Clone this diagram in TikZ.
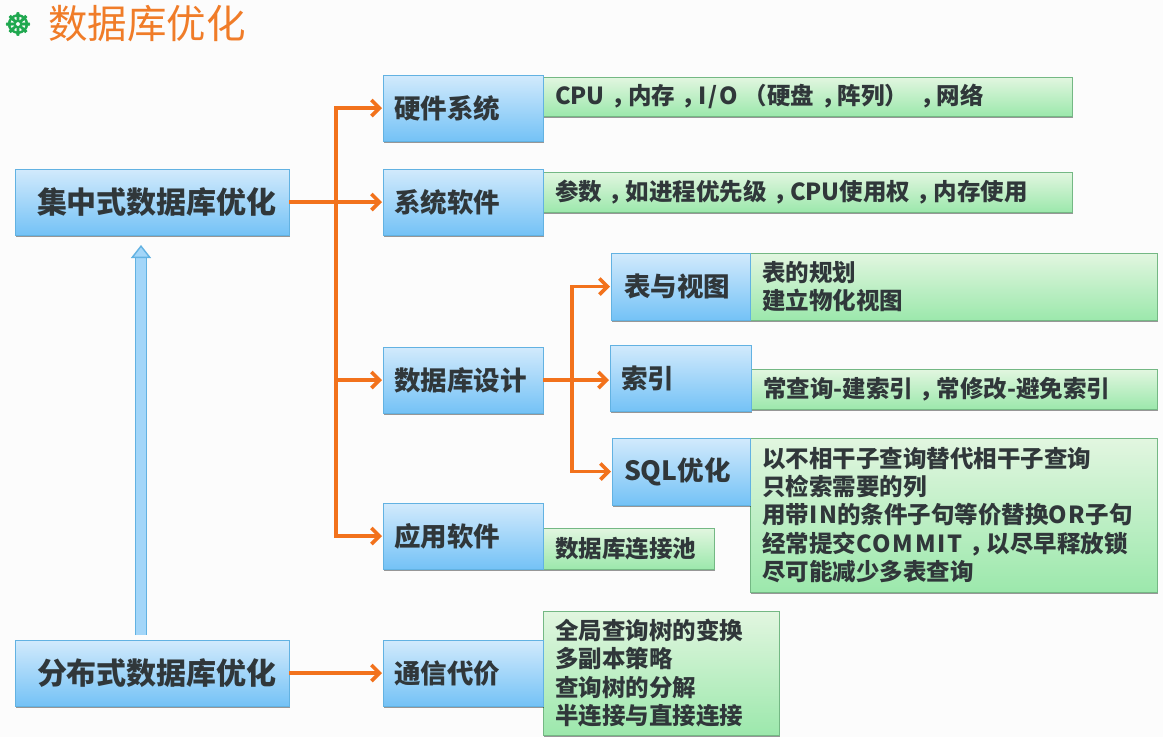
\documentclass[tikz,border=0pt]{standalone}
\usepackage{fontspec}
\setmainfont{Noto Sans CJK SC}
\newfontfamily\symfont[FakeBold=2]{DejaVu Sans}
\newfontfamily\latfont[LetterSpace=8]{Noto Sans CJK SC}
\newcommand{\lat}[1]{{\latfont #1}}
\newcommand{\zhc}{\kern.28em，\kern-.28em}
\usetikzlibrary{arrows.meta}
\usetikzlibrary{shadows}
\definecolor{lineorange}{HTML}{F2721C}
\definecolor{titleorange}{HTML}{F07C28}
\definecolor{wheelgreen}{HTML}{1FA84F}
\definecolor{txtdark}{HTML}{30373A}
\definecolor{bluetop}{HTML}{D2EAFC}
\definecolor{bluelow}{HTML}{74C2F6}
\definecolor{blueline}{HTML}{62B2E2}
\definecolor{greentop}{HTML}{E2F6E0}
\definecolor{greenlow}{HTML}{9CE8AC}
\definecolor{greenline}{HTML}{74B884}
\tikzset{
  basebox/.style={anchor=north west,outer sep=0pt,inner ysep=0pt,align=left,text=txtdark,
    drop shadow={shadow xshift=1pt,shadow yshift=-2pt,fill=black,opacity=.4}},
  bluebox/.style={basebox,draw=blueline,line width=1pt,top color=bluetop,bottom color=bluelow,
    inner xsep=11pt,font=\fontsize{26.5}{30}\selectfont\bfseries},
  greenbox/.style={basebox,draw=greenline,line width=.8pt,top color=greentop,bottom color=greenlow,
    inner xsep=12pt,font=\fontsize{23.5}{28.3}\selectfont\bfseries},
  orangeline/.style={draw=lineorange,line width=3.6pt,-{Straight Barb[length=8pt,width=16pt]},shorten >=1pt},
}
\begin{document}
\begin{tikzpicture}[x=1pt,y=-1pt]
\useasboundingbox (0,0) rectangle (1163,737);
\fill[black!1] (0,0) rectangle (1163,737);

% title
\node[text=wheelgreen,font=\fontsize{31}{31}\selectfont\symfont] (wheel) at (18,24) {☸};
\node[anchor=west,inner sep=0pt,text=titleorange,font=\fontsize{39.5}{40}\selectfont] (title) at (48,24) {数据库优化};

% green text boxes
\node[greenbox,minimum width=529pt,minimum height=39pt,text width=505pt] (gcpu) at (543,77) {CPU\zhc 内存\zhc \lat{I/O}\kern6pt（硬盘\zhc 阵列）\kern5pt\zhc 网络};
\node[greenbox,minimum width=529pt,minimum height=40pt,text width=505pt] (gparam) at (543,172) {参数\zhc 如进程优先级\zhc CPU使用权\zhc 内存使用};
\node[greenbox,minimum width=407pt,minimum height=67pt,text width=383pt] (gtable) at (750,253) {表的规划\\建立物化视图};
\node[greenbox,minimum width=406pt,minimum height=40pt,text width=382pt] (gindex) at (751,369) {常查询-建索引\zhc 常修改-避免索引};
\node[greenbox,minimum width=407pt,minimum height=154pt,text width=383pt] (gsql) at (750,438) {以不相干子查询替代相干子查询\\只检索需要的列\\用带\lat{IN}的条件子句等价替换\lat{OR}子句\\经常提交\lat{COMMIT}\zhc 以尽早释放锁\\尽可能减少多表查询};
\node[greenbox,minimum width=171pt,minimum height=41pt,text width=147pt] (gpool) at (543,528) {数据库连接池};
\node[greenbox,minimum width=236pt,minimum height=124pt,text width=212pt] (gcomm) at (543,611) {全局查询树的变换\\多副本策略\\查询树的分解\\半连接与直接连接};

% blue boxes
\node[bluebox,font=\fontsize{30}{34}\selectfont\bfseries,minimum width=274pt,minimum height=66pt,text width=252pt] (central) at (15,169) {\hspace*{11pt}集中式数据库优化};
\node[bluebox,font=\fontsize{30}{34}\selectfont\bfseries,minimum width=274pt,minimum height=66pt,text width=252pt] (distrib) at (15,640) {\hspace*{11pt}分布式数据库优化};
\node[bluebox,minimum width=160pt,minimum height=66pt,text width=138pt] (hardware) at (383,75) {硬件系统};
\node[bluebox,minimum width=160pt,minimum height=66pt,text width=138pt] (syssoft) at (383,169) {系统软件};
\node[bluebox,minimum width=160pt,minimum height=66pt,text width=138pt] (dbdesign) at (383,347) {数据库设计};
\node[bluebox,minimum width=160pt,minimum height=66pt,text width=138pt] (appsoft) at (383,503) {应用软件};
\node[bluebox,minimum width=160pt,minimum height=66pt,text width=138pt] (comm) at (383,640) {通信代价};
\node[bluebox,inner xsep=13pt,minimum width=139pt,minimum height=67pt,text width=113pt] (tableview) at (611,253) {表与视图};
\node[bluebox,minimum width=141pt,minimum height=66pt,text width=119pt] (index) at (610,345) {索引};
\node[bluebox,inner xsep=12pt,minimum width=138pt,minimum height=67pt,text width=114pt] (sqlopt) at (612,438) {SQL优化};

% connectors
\coordinate (trunk) at (336,202);
\coordinate (trunkb) at (572,379);
\draw[orangeline] (central.east) -- (syssoft.west);
\draw[orangeline] (trunk) |- (hardware.west);
\draw[orangeline] (trunk) |- (dbdesign.west);
\draw[orangeline] (trunk) |- (appsoft.west);
\draw[orangeline] (distrib.east) -- (comm.west);
\draw[orangeline] (dbdesign.east) -- (dbdesign.east -| index.west);
\draw[orangeline] (trunkb) |- (tableview.west);
\draw[orangeline] (trunkb) |- (sqlopt.west);

% up arrow
\coordinate (upstart) at (141,635);
\coordinate (upend) at (141,245);
\draw[draw=blueline,line width=1.4pt,double=bluetop!50!bluelow,double distance=10pt,line join=round,
  -{Triangle[open,length=13pt,width=20pt,fill=bluetop!50!bluelow]}] (upstart) -- (upend);
\end{tikzpicture}
\end{document}
